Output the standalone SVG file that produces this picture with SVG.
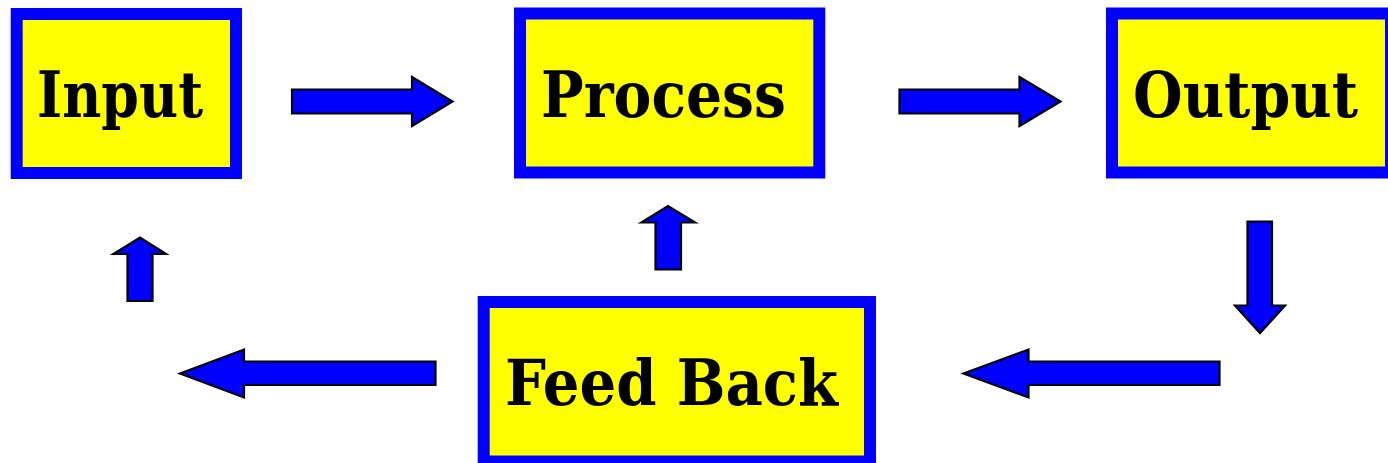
<svg xmlns="http://www.w3.org/2000/svg" width="1388" height="463" viewBox="0 0 1388 463">
<style>
.box{fill:#ffff00;stroke:#0000ff;stroke-width:12}
.lbl{font-family:"DejaVu Serif","Liberation Serif",serif;font-weight:bold;font-size:64px;fill:#000}
.arr{fill:#0000ff;stroke:#000;stroke-width:2.2;stroke-linejoin:miter}
</style>
<rect width="1388" height="463" fill="#fff"/>
<g id="input">
<rect class="box" x="16.7" y="14" width="219.3" height="159"/>
<text class="lbl" x="37" y="117" textLength="166" lengthAdjust="spacingAndGlyphs">Input</text>
</g>
<g id="process">
<rect class="box" x="520" y="13.5" width="299.3" height="159"/>
<text class="lbl" x="541" y="117" textLength="245" lengthAdjust="spacingAndGlyphs">Process</text>
</g>
<g id="output">
<rect class="box" x="1112" y="13.5" width="279" height="159"/>
<text class="lbl" x="1133" y="117" textLength="225" lengthAdjust="spacingAndGlyphs">Output</text>
</g>
<g id="feedback">
<rect class="box" x="483.7" y="302" width="386.3" height="159.5"/>
<text class="lbl" x="505" y="405" textLength="333" lengthAdjust="spacingAndGlyphs">Feed Back</text>
</g>
<g id="connectors">
<polygon class="arr" points="292,89.5 412,89.5 412,77 452.5,101.5 412,126 412,113.5 292,113.5"/>
<polygon class="arr" points="899.5,89.5 1019.5,89.5 1019.5,77 1060.5,101.5 1019.5,126 1019.5,113.5 899.5,113.5"/>
<polygon class="arr" points="1247.5,221.5 1272,221.5 1272,305.5 1285,305.5 1260,333 1235,305.5 1247.5,305.5"/>
<polygon class="arr" points="1219.5,361.5 1028.5,361.5 1028.5,349.5 963.5,373.5 1028.5,397.5 1028.5,385 1219.5,385"/>
<polygon class="arr" points="435.5,361.5 244,361.5 244,349.5 180,373.5 244,397.5 244,385 435.5,385"/>
<polygon class="arr" points="655.5,269.5 655.5,222.5 641.5,222.5 668,206 695,222.5 681,222.5 681,269.5"/>
<polygon class="arr" points="127.5,301 127.5,254 113.5,254 140,237.5 166,254 152.5,254 152.5,301"/>
</g>
</svg>
